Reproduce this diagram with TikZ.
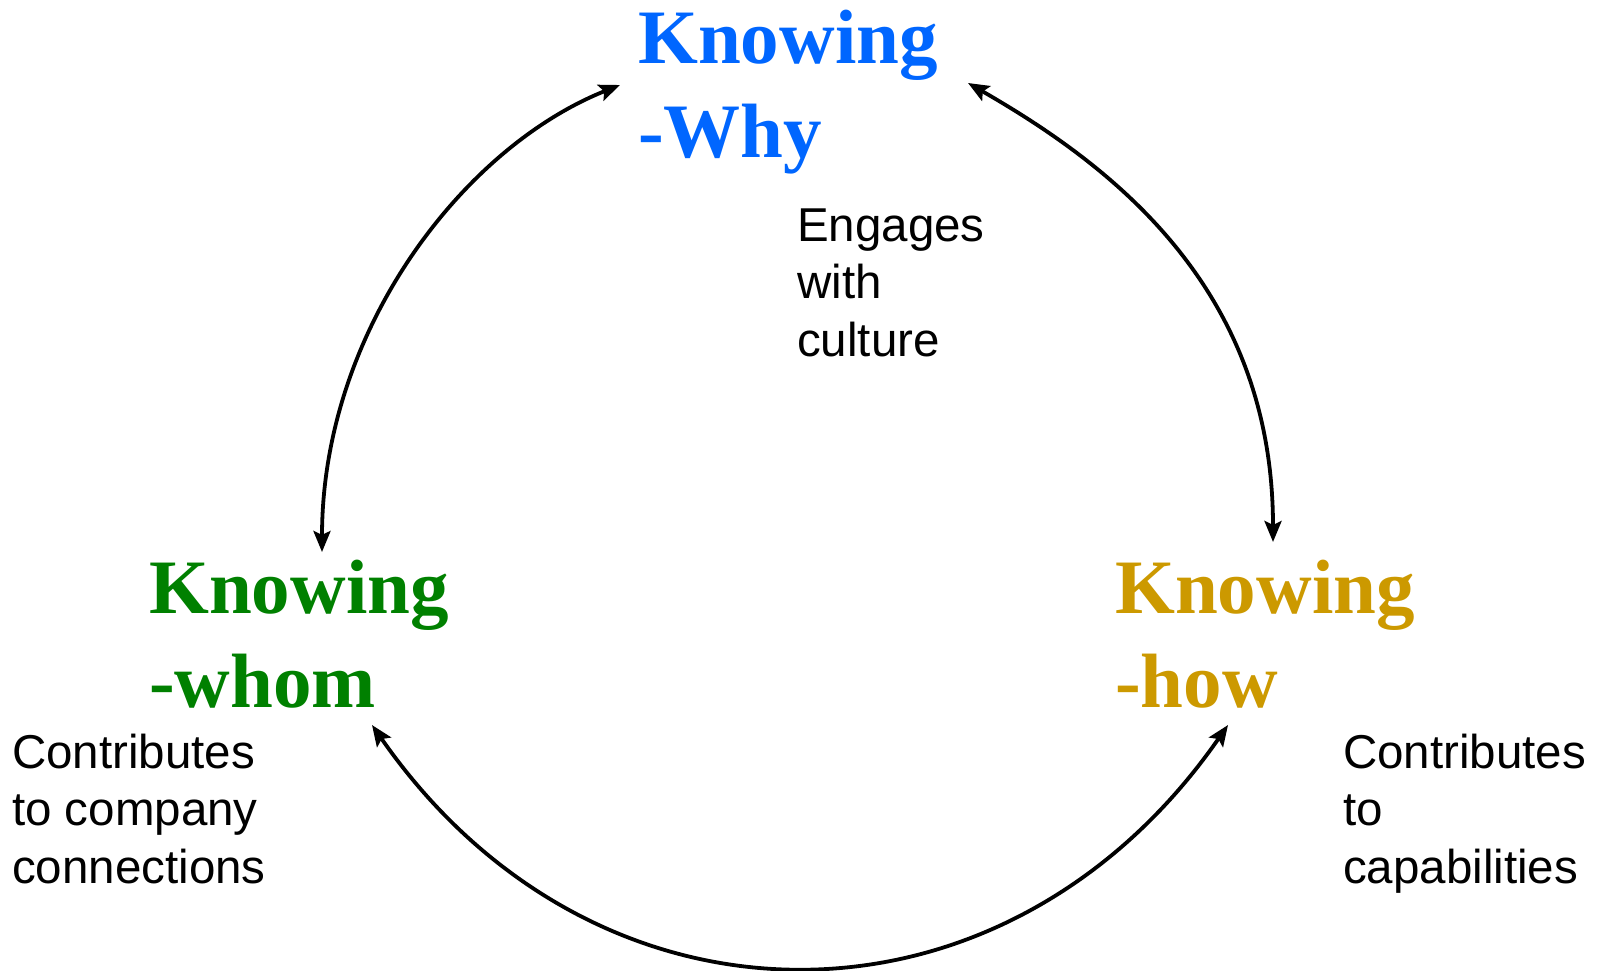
\documentclass[tikz,border=0pt]{standalone}
\usepackage{fontspec}
\setmainfont{Liberation Serif}
\setsansfont{Liberation Sans}
\usetikzlibrary{arrows.meta}
\definecolor{whyblue}{RGB}{0,102,255}
\definecolor{whomgreen}{RGB}{0,128,0}
\definecolor{howgold}{RGB}{204,153,0}
\tikzset{
  big/.style={anchor=base west, inner sep=0pt, align=left,
    font=\fontsize{77pt}{94pt}\selectfont\bfseries},
  small/.style={anchor=base west, inner sep=0pt, align=left,
    font=\fontsize{47.5pt}{57.5pt}\selectfont\sffamily},
  link/.style={line width=3.8pt, {Stealth[length=21pt,width=17pt,inset=4pt]}-{Stealth[length=21pt,width=17pt,inset=4pt]}}
}
\begin{document}
\begin{tikzpicture}[x=1pt,y=-1pt]
\useasboundingbox (0,0) rectangle (1600,970);
\node[big, text=whyblue] (why) at (638,157) {Knowing\\-Why};
\node[big, text=whomgreen] (whom) at (149,707) {Knowing\\-whom};
\node[big, text=howgold] (how) at (1115,707) {Knowing\\-how};
\node[small] (culture) at (797,356) {Engages\\with\\culture};
\node[small] (conn) at (12,883) {Contributes\\to company\\connections};
\node[small] (cap) at (1343,883) {Contributes\\to\\capabilities};
\coordinate (whyL) at (620,85);
\coordinate (whyR) at (968,83);
\coordinate (whomT) at (322,552);
\coordinate (howT) at (1273,542);
\coordinate (whomB) at (372,725);
\coordinate (howB) at (1228,725);
\draw[link] (whyL) .. controls (462,148) and (322,332) .. (whomT);
\draw[link] (whyR) .. controls (1107,163) and (1273,285) .. (howT);
\draw[link] (whomB) .. controls (596,1047) and (1004,1047) .. (howB);
\end{tikzpicture}
\end{document}
